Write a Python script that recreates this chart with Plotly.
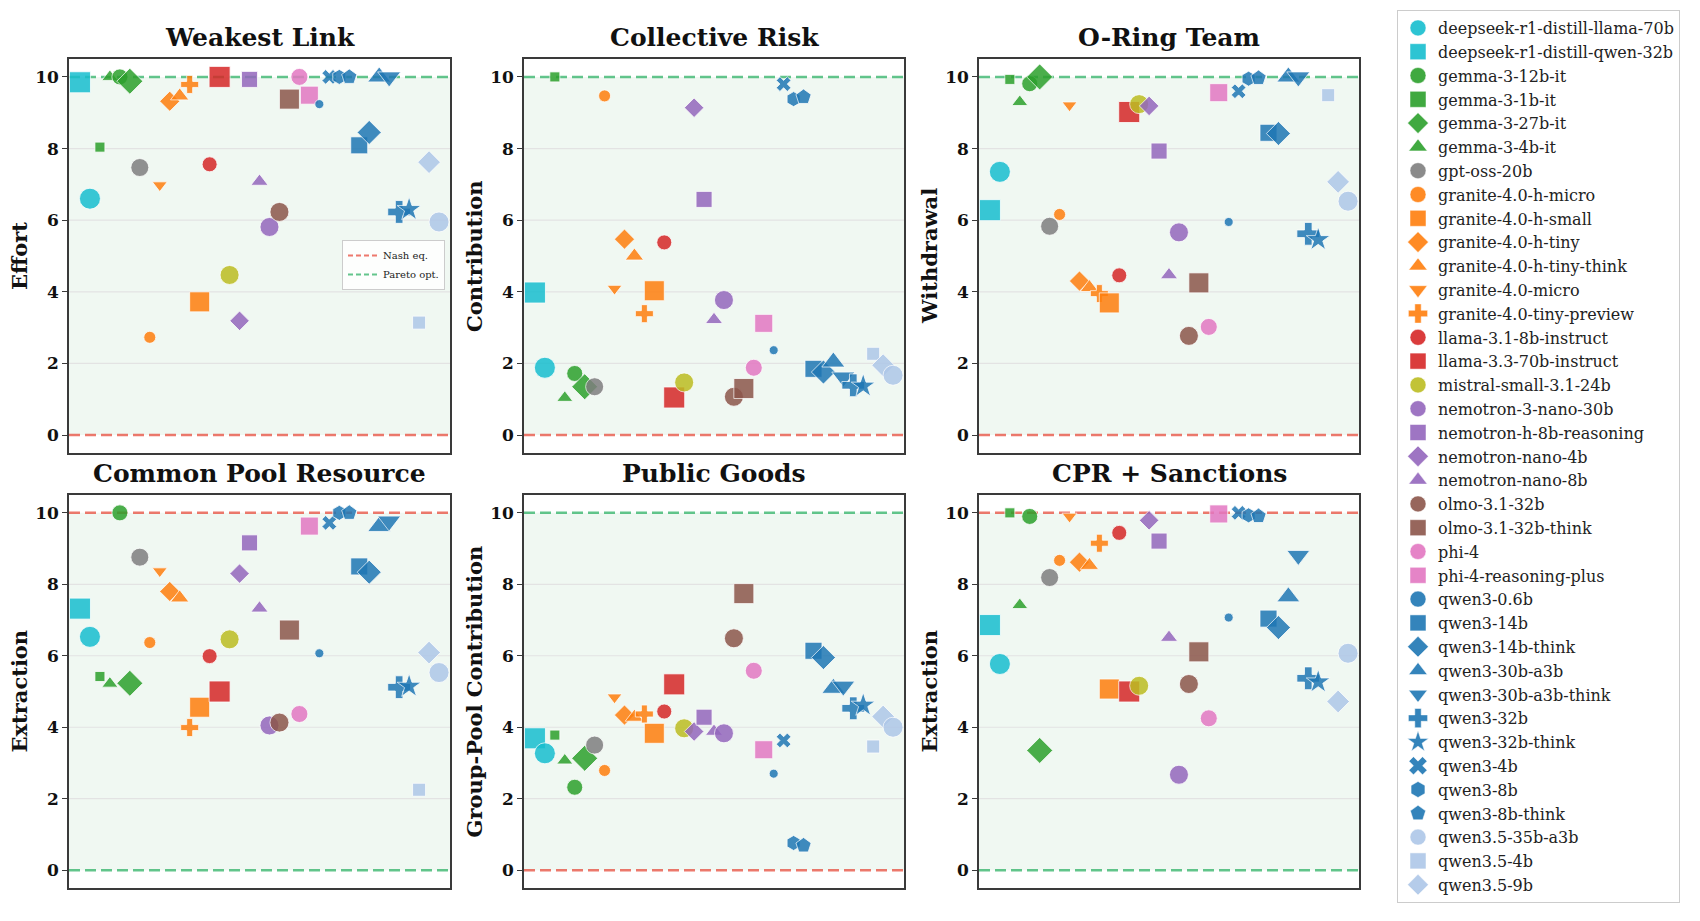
import plotly.graph_objects as go
from plotly.subplots import make_subplots

# ---------------- data ----------------
# models in x (plotting) order
models = [
    'deepseek-r1-distill-qwen-32b', 'deepseek-r1-distill-llama-70b',
    'gemma-3-1b-it', 'gemma-3-4b-it', 'gemma-3-12b-it', 'gemma-3-27b-it',
    'gpt-oss-20b',
    'granite-4.0-h-micro', 'granite-4.0-micro', 'granite-4.0-h-tiny', 'granite-4.0-h-tiny-think',
    'granite-4.0-tiny-preview', 'granite-4.0-h-small',
    'llama-3.1-8b-instruct', 'llama-3.3-70b-instruct',
    'mistral-small-3.1-24b',
    'nemotron-nano-4b', 'nemotron-h-8b-reasoning', 'nemotron-nano-8b', 'nemotron-3-nano-30b',
    'olmo-3.1-32b', 'olmo-3.1-32b-think',
    'phi-4', 'phi-4-reasoning-plus',
    'qwen3-0.6b', 'qwen3-4b', 'qwen3-8b', 'qwen3-8b-think', 'qwen3-14b', 'qwen3-14b-think',
    'qwen3-30b-a3b', 'qwen3-30b-a3b-think', 'qwen3-32b', 'qwen3-32b-think',
    'qwen3.5-4b', 'qwen3.5-9b', 'qwen3.5-35b-a3b',
]

weakest_link = [9.85, 6.60, 8.04, 10.0, 10.0, 9.88, 7.47, 2.73, 6.98, 9.32, 9.47, 9.79, 3.72,
                7.56, 10.0, 4.47, 3.19, 9.93, 7.08, 5.81, 6.23, 9.38, 10.0, 9.49, 9.24, 10.0,
                10.0, 10.0, 8.09, 8.45, 10.0, 10.0, 6.23, 6.30, 3.14, 7.62, 5.95]
collective_risk = [3.98, 1.88, 10.0, 1.04, 1.72, 1.35, 1.35, 9.47, 4.09, 5.47, 5.00, 3.39, 4.03,
                   5.38, 1.05, 1.47, 9.14, 6.58, 3.22, 3.77, 1.07, 1.30, 1.88, 3.12, 2.37, 9.80,
                   9.38, 9.44, 1.85, 1.76, 2.04, 1.62, 1.39, 1.37, 2.27, 1.95, 1.67]
o_ring = [6.28, 7.35, 9.93, 9.30, 9.81, 10.0, 5.83, 6.16, 9.21, 4.30, 4.12, 3.95, 3.69,
          4.46, 9.02, 9.24, 9.19, 7.93, 4.47, 5.66, 2.77, 4.25, 3.02, 9.56, 5.95, 9.60,
          9.95, 9.97, 8.44, 8.42, 10.0, 10.0, 5.62, 5.46, 9.49, 7.07, 6.53]
common_pool = [7.32, 6.53, 5.42, 5.22, 10.0, 5.23, 8.76, 6.37, 8.37, 7.80, 7.62, 3.99, 4.56,
               5.99, 5.00, 6.46, 8.30, 9.16, 7.33, 4.05, 4.13, 6.72, 4.37, 9.63, 6.07, 9.72,
               10.0, 10.0, 8.50, 8.34, 9.62, 9.77, 5.12, 5.15, 2.25, 6.09, 5.53]
public_goods = [3.69, 3.27, 3.78, 3.07, 2.32, 3.13, 3.50, 2.79, 4.84, 4.34, 4.28, 4.37, 3.83,
                4.44, 5.20, 3.97, 3.88, 4.28, 3.88, 3.83, 6.49, 7.74, 5.58, 3.37, 2.70, 3.63,
                0.76, 0.69, 6.14, 5.95, 5.09, 5.15, 4.53, 4.62, 3.46, 4.30, 4.00]
cpr_sanctions = [6.86, 5.77, 10.0, 7.42, 9.90, 3.35, 8.19, 8.67, 9.90, 8.62, 8.53, 9.15, 5.07,
                 9.44, 5.00, 5.16, 9.79, 9.21, 6.51, 2.67, 5.21, 6.11, 4.25, 9.97, 7.07, 10.0,
                 9.93, 9.91, 7.04, 6.79, 7.65, 8.81, 5.37, 5.27, None, 4.72, 6.07]

game_titles = ['Weakest Link', 'Collective Risk', 'O-Ring Team',
               'Common Pool Resource', 'Public Goods', 'CPR + Sanctions']
y_labels = ['Effort', 'Contribution', 'Withdrawal',
            'Extraction', 'Group-Pool Contribution', 'Extraction']
nash_levels = [0, 0, 0, 10, 0, 10]
pareto_levels = [10, 10, 10, 0, 10, 0]
y_ticks = [0, 2, 4, 6, 8, 10]

panel_values = [weakest_link, collective_risk, o_ring, common_pool, public_goods, cpr_sanctions]

# ---------------- styles ----------------
family_colors = {
    'deepseek': '#17becf', 'gemma': '#2ca02c', 'gpt': '#7f7f7f', 'granite': '#ff7f0e',
    'llama': '#d62728', 'mistral': '#bcbd22', 'nemotron': '#9467bd', 'olmo': '#8c564b',
    'phi': '#e377c2', 'qwen3.5': '#aec7e8', 'qwen3': '#1f77b4',
}
style = {
    'deepseek-r1-distill-qwen-32b': ('square', 21),
    'deepseek-r1-distill-llama-70b': ('circle', 21),
    'gemma-3-1b-it': ('square', 10),
    'gemma-3-4b-it': ('triangle-up', 14),
    'gemma-3-12b-it': ('circle', 16),
    'gemma-3-27b-it': ('diamond', 20),
    'gpt-oss-20b': ('circle', 18),
    'granite-4.0-h-micro': ('circle', 12),
    'granite-4.0-micro': ('triangle-down', 13),
    'granite-4.0-h-tiny': ('diamond', 15.5),
    'granite-4.0-h-tiny-think': ('triangle-up', 16),
    'granite-4.0-tiny-preview': ('cross', 15),
    'granite-4.0-h-small': ('square', 20),
    'llama-3.1-8b-instruct': ('circle', 15),
    'llama-3.3-70b-instruct': ('square', 21),
    'mistral-small-3.1-24b': ('circle', 19),
    'nemotron-nano-4b': ('diamond', 15),
    'nemotron-h-8b-reasoning': ('square', 16),
    'nemotron-nano-8b': ('triangle-up', 15),
    'nemotron-3-nano-30b': ('circle', 19),
    'olmo-3.1-32b': ('circle', 19),
    'olmo-3.1-32b-think': ('square', 20),
    'phi-4': ('circle', 17),
    'phi-4-reasoning-plus': ('square', 18),
    'qwen3-0.6b': ('circle', 9),
    'qwen3-4b': ('x', 13),
    'qwen3-8b': ('hexagon', 15),
    'qwen3-8b-think': ('pentagon', 16),
    'qwen3-14b': ('square', 17),
    'qwen3-14b-think': ('diamond', 18.5),
    'qwen3-30b-a3b': ('triangle-up', 20),
    'qwen3-30b-a3b-think': ('triangle-down', 20),
    'qwen3-32b': ('cross', 19),
    'qwen3-32b-think': ('star', 18),
    'qwen3.5-4b': ('square', 13),
    'qwen3.5-9b': ('diamond', 17.5),
    'qwen3.5-35b-a3b': ('circle', 20),
}


def color_of(m):
    for k in ['deepseek', 'gemma', 'gpt', 'granite', 'llama', 'mistral', 'nemotron',
              'olmo', 'phi', 'qwen3.5', 'qwen3']:
        if m.startswith(k):
            return family_colors[k]
    return '#000000'


SERIF = 'DejaVu Serif'
NASH_COLOR = 'rgba(231,76,60,0.75)'
PARETO_COLOR = 'rgba(39,174,96,0.72)'
DASH = '11px,5px'

W, H = 1700, 921
col_px = [(69, 450), (524, 904), (979, 1359)]
row_px = [(59, 453), (495, 888)]

fig = make_subplots(rows=2, cols=3)

for p in range(6):
    r, c = divmod(p, 3)
    vals = panel_values[p]
    for i, m in enumerate(models):
        v = vals[i]
        if v is None:
            continue
        sym, sz = style[m]
        fig.add_trace(go.Scatter(
            x=[m], y=[v], mode='markers', showlegend=False, name=m,
            marker=dict(symbol=sym, size=sz, color=color_of(m), opacity=0.85,
                        line=dict(color='white', width=0.8)),
            hovertemplate=m + ': %{y:.2f}<extra></extra>'),
            row=r + 1, col=c + 1)

    idx = '' if p == 0 else str(p + 1)
    xa, ya = 'x' + idx, 'y' + idx
    # background band between equilibrium levels
    fig.add_shape(type='rect', xref=xa + ' domain', yref=ya, x0=0, x1=1,
                  y0=min(nash_levels[p], pareto_levels[p]),
                  y1=max(nash_levels[p], pareto_levels[p]),
                  fillcolor='#f0f8f2', line=dict(width=0), layer='below')
    # horizontal grid lines
    for t in y_ticks[1:-1]:
        fig.add_shape(type='line', xref=xa + ' domain', yref=ya, x0=0, x1=1, y0=t, y1=t,
                      line=dict(color='#e3e3e3', width=1.2), layer='below')
    fig.add_shape(type='line', xref=xa + ' domain', yref=ya, x0=0, x1=1,
                  y0=nash_levels[p], y1=nash_levels[p],
                  line=dict(color=NASH_COLOR, width=2.5, dash=DASH), layer='below')
    fig.add_shape(type='line', xref=xa + ' domain', yref=ya, x0=0, x1=1,
                  y0=pareto_levels[p], y1=pareto_levels[p],
                  line=dict(color=PARETO_COLOR, width=2.5, dash=DASH), layer='below')

    x0, x1 = col_px[c]
    y0, y1 = row_px[r]
    fig.update_xaxes(domain=[x0 / W, x1 / W], type='category',
                     categoryorder='array', categoryarray=models,
                     range=[-1.1, len(models) + 0.1],
                     showticklabels=False, ticks='', showgrid=False, zeroline=False,
                     showline=True, mirror=True, linecolor='#3a3a3a', linewidth=1.5,
                     row=r + 1, col=c + 1)
    fig.update_yaxes(domain=[1 - y1 / H, 1 - y0 / H], range=[-0.5, 10.5],
                     tickvals=y_ticks, ticks='outside', ticklen=5, tickwidth=1.3,
                     tickcolor='#3a3a3a',
                     tickfont=dict(family=SERIF, size=17, color='#111', weight='bold'),
                     showgrid=False, zeroline=False, automargin=False,
                     showline=True, mirror=True, linecolor='#3a3a3a', linewidth=1.5,
                     row=r + 1, col=c + 1)

    # panel title
    fig.add_annotation(text=game_titles[p], xref='paper', yref='paper',
                       x=(x0 + x1) / 2 / W, y=1 - (y0 - 5) / H,
                       xanchor='center', yanchor='bottom', showarrow=False,
                       font=dict(family=SERIF, size=25, color='#111', weight='bold'))
    # y-axis title
    fig.add_annotation(text=y_labels[p], xref='paper', yref='paper',
                       x=(x0 - 50) / W, y=1 - (y0 + y1) / 2 / H,
                       xanchor='center', yanchor='middle', textangle=-90, showarrow=False,
                       font=dict(family=SERIF, size=21, color='#111', weight='bold'))

# legend entries (alphabetical)
for m in sorted(models):
    sym, _ = style[m]
    fig.add_trace(go.Scatter(
        x=[None], y=[None], mode='markers', name=m, legend='legend', showlegend=True,
        marker=dict(symbol=sym, size=16, color=color_of(m), opacity=0.9,
                    line=dict(color='white', width=0.5))))

fig.add_trace(go.Scatter(x=[None], y=[None], mode='lines', name='Nash eq.', legend='legend2',
                         line=dict(color=NASH_COLOR, width=2, dash='5px,3px')))
fig.add_trace(go.Scatter(x=[None], y=[None], mode='lines', name='Pareto opt.', legend='legend2',
                         line=dict(color=PARETO_COLOR, width=2, dash='5px,3px')))

fig.update_layout(
    width=W, height=H,
    margin=dict(l=0, r=0, t=0, b=0),
    paper_bgcolor='white', plot_bgcolor='white',
    font=dict(family=SERIF, color='#222'),
    legend=dict(x=1397 / W, y=1 - 10 / H, xanchor='left', yanchor='top',
                bgcolor='white', bordercolor='#cccccc', borderwidth=1,
                font=dict(family=SERIF, size=16, color='#222'),
                itemsizing='trace', tracegroupgap=0),
    legend2=dict(x=445 / W, y=1 - 240 / H, xanchor='right', yanchor='top',
                 bgcolor='rgba(255,255,255,0.85)', bordercolor='#cccccc', borderwidth=1,
                 font=dict(family=SERIF, size=10, color='#222'), itemwidth=30,
                 tracegroupgap=0),
)

fig.write_html('out.html', config={'displayModeBar': False},
               post_script="document.body.style.margin='0px';")
